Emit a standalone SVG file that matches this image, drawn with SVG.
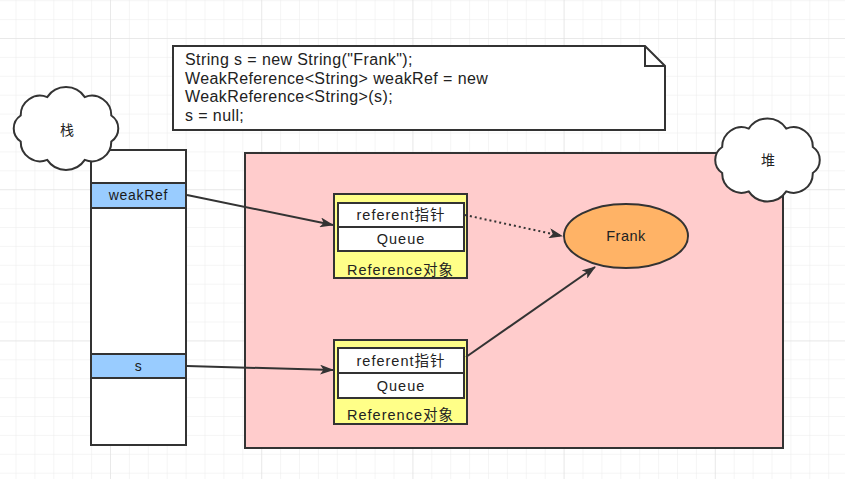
<svg xmlns="http://www.w3.org/2000/svg" width="845" height="479" viewBox="0 0 845 479">
<style>
.ln{stroke:#333;stroke-width:2;}
.box{stroke:#333;stroke-width:2;}
.code{font-family:"Liberation Sans","Noto Sans CJK SC",sans-serif;font-size:16px;letter-spacing:0.4px;fill:#222;}
.lbl{font-family:"Liberation Sans","Noto Sans CJK SC",sans-serif;font-size:14px;letter-spacing:0.7px;fill:#1a1a1a;text-anchor:middle;}
.cjk{font-family:"Noto Sans CJK SC",sans-serif;font-size:14px;fill:#222;text-anchor:middle;}
.ref{font-family:"Liberation Sans","Noto Sans CJK SC",sans-serif;font-size:14.5px;fill:#222;text-anchor:middle;letter-spacing:1px;}
</style>
<defs>
<pattern id="minor" width="18.9" height="18.9" patternUnits="userSpaceOnUse" x="15.5" y="0.2">
<path d="M0 0H18.9M0 0V18.9" fill="none" stroke="#ececec" stroke-width="1"/>
</pattern>
<pattern id="major" width="151.2" height="151.2" patternUnits="userSpaceOnUse" x="110" y="38">
<path d="M0 0H151.2M0 0V151.2" fill="none" stroke="#dedede" stroke-width="1"/>
</pattern>
<path id="cloud" d="M111.3 141.5A19.4 19.4 0 0 1 84.8 159.9A22.6 22.6 0 0 1 47.2 159.9A19.4 19.4 0 0 1 20.7 141.5A15.6 15.6 0 0 1 20.7 115.5A19.4 19.4 0 0 1 47.2 97.1A22.6 22.6 0 0 1 84.8 97.1A19.4 19.4 0 0 1 111.3 115.5A15.6 15.6 0 0 1 111.3 141.5Z"/>
<marker id="arr" viewBox="0 0 14 10" refX="13" refY="5" markerWidth="14" markerHeight="10" markerUnits="userSpaceOnUse" orient="auto">
<path d="M0 0L14 5L0 10L3.5 5Z" fill="#333"/>
</marker>
</defs>
<rect width="845" height="479" fill="#fff"/>
<rect width="845" height="479" fill="url(#minor)"/>
<rect width="845" height="479" fill="url(#major)"/>

<g id="note">
<path d="M173 46H645L665 66V130H173Z" fill="#fff" class="box"/>
<path d="M645 46V66H665" fill="none" class="box"/>
<text class="code" x="185" y="65">String s = new String("Frank");</text>
<text class="code" x="185" y="84">WeakReference&lt;String&gt; weakRef = new</text>
<text class="code" x="185" y="102">WeakReference&lt;String&gt;(s);</text>
<text class="code" x="185" y="121">s = null;</text>
</g>

<g id="stack">
<rect x="91" y="150" width="95" height="295" fill="#fff" class="box"/>
</g>
<g id="weakRef">
<rect x="91" y="183" width="95" height="25" fill="#99ccff" class="box"/>
<text class="lbl" x="138.5" y="200">weakRef</text>
</g>
<g id="s">
<rect x="91" y="354" width="95" height="24" fill="#99ccff" class="box"/>
<text class="lbl" x="138.5" y="371">s</text>
</g>
<g id="stackCloud">
<use href="#cloud" fill="#fff" class="box"/>
<text class="cjk" x="67" y="135">栈</text>
</g>

<g id="heap">
<rect x="245" y="153" width="538" height="295" fill="#ffcccc" class="box"/>
</g>
<g id="heapCloud">
<use href="#cloud" transform="translate(701.5 31.5)" fill="#fff" class="box"/>
<text class="cjk" x="768" y="165">堆</text>
</g>

<g id="ref1">
<rect x="334" y="194" width="133" height="84" fill="#ffff88" class="box"/>
<rect x="338" y="203" width="126" height="24" fill="#fff" class="box"/>
<rect x="338" y="227" width="126" height="24" fill="#fff" class="box"/>
<text class="ref" x="401" y="220">referent指针</text>
<text class="ref" x="401" y="244">Queue</text>
<text class="ref" x="400.5" y="275">Reference对象</text>
</g>
<g id="ref2">
<rect x="334" y="340" width="133" height="84" fill="#ffff88" class="box"/>
<rect x="338" y="348" width="126" height="25" fill="#fff" class="box"/>
<rect x="338" y="373" width="126" height="25" fill="#fff" class="box"/>
<text class="ref" x="401" y="366">referent指针</text>
<text class="ref" x="401" y="391">Queue</text>
<text class="ref" x="400.5" y="420">Reference对象</text>
</g>
<g id="frank">
<ellipse cx="626" cy="236" rx="62" ry="32" fill="#ffb366" class="box"/>
<text class="ref" x="626" y="241" style="letter-spacing:0.5px">Frank</text>
</g>

<g id="connectors" fill="none">
<path d="M187 195L333 225" class="ln" marker-end="url(#arr)"/>
<path d="M187 366L333 370" class="ln" marker-end="url(#arr)"/>
<path d="M465 215L562 236" class="ln" stroke-dasharray="2 3" marker-end="url(#arr)"/>
<path d="M466 357L595 267" class="ln" marker-end="url(#arr)"/>
</g>
</svg>
